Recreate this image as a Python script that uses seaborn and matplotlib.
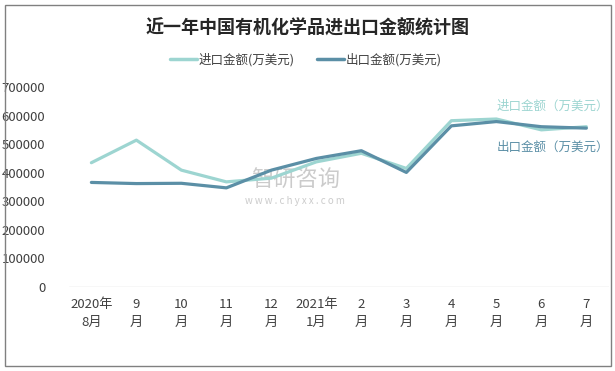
from matplotlib import pyplot as plt
from matplotlib.patches import Rectangle
import seaborn as sns
import pandas as pd

months = ['2020年\n8月', '9\n月', '10\n月', '11\n月', '12\n月', '2021年\n1月',
          '2\n月', '3\n月', '4\n月', '5\n月', '6\n月', '7\n月']
imports = [435000, 514000, 409000, 368000, 381000, 438000,
           468000, 415000, 582000, 588000, 550000, 561000]
exports = [366000, 362000, 363000, 347000, 409000, 450000,
           477000, 401000, 564000, 579000, 561000, 556000]
import_name = '进口金额(万美元)'
export_name = '出口金额(万美元)'
light = '#9dd5d1'
dark = '#5b8fa6'

sns.set_style('white')
plt.rcParams['font.family'] = ['Noto Sans CJK SC', 'DejaVu Sans']

df = pd.DataFrame({'pos': list(range(len(months))) * 2,
                   'value': imports + exports,
                   'series': [import_name] * len(months) + [export_name] * len(months)})

fig = plt.figure(figsize=(6.15, 3.71), dpi=100)
ax = fig.add_axes([0.112, 0.2264, 0.878, 0.5391])
ax.patch.set_visible(False)
sns.lineplot(data=df, x='pos', y='value', hue='series', palette=[light, dark],
             linewidth=2.3, ax=ax, legend=False)

ax.set_xlim(-0.5, len(months) - 0.5)
ax.set_ylim(0, 700000)
ax.set_yticks(range(0, 700001, 100000))
ax.set_yticklabels([str(v) for v in range(0, 700001, 100000)], fontsize=9.5, color='#404040')
ax.set_xticks(range(len(months)))
ax.set_xticklabels(months, fontsize=9.5, color='#404040', linespacing=1.5)
ax.tick_params(axis='both', length=0, pad=8)
ax.tick_params(axis='y', pad=17)
ax.set_xlabel('')
ax.set_ylabel('')
sns.despine(ax=ax, left=True, bottom=True)
ax.axhline(0, color='#d9d9d9', lw=1)

# right-hand series labels
ax.text(1.0, 0.905, '进口金额（万美元）', transform=ax.transAxes, ha='right', va='center',
        fontsize=9, color=light)
ax.text(1.0, 0.70, '出口金额（万美元）', transform=ax.transAxes, ha='right', va='center',
        fontsize=9, color=dark)

# legend on top
ax.plot([], [], color=light, lw=2.5, label=import_name)
ax.plot([], [], color=dark, lw=2.5, label=export_name)
fig.legend(loc='center', bbox_to_anchor=(0.497, 0.838), ncol=2, frameon=False,
           fontsize=9, handlelength=2.2, handletextpad=0.1, columnspacing=1.8,
           labelcolor='#404040')

fig.text(0.5, 0.925, '近一年中国有机化学品进出口金额统计图', ha='center', va='center',
         fontsize=13, fontweight='bold', color='#262626')

# watermark, kept behind the lines
fig.text(0.48, 0.515, '智研咨询', ha='center', va='center', fontsize=16, color='#bfbfbf',
         alpha=0.8, zorder=-1)
fig.text(0.48, 0.458, 'w w w . c h y x x . c o m', ha='center', va='center', fontsize=7,
         color='#bfbfbf', alpha=0.8, zorder=-1)

fig.patches.append(Rectangle((0.008, 0.013), 0.985, 0.973, transform=fig.transFigure,
                             fill=False, edgecolor='#808080', lw=1))

fig.savefig('out.png', dpi=100)
